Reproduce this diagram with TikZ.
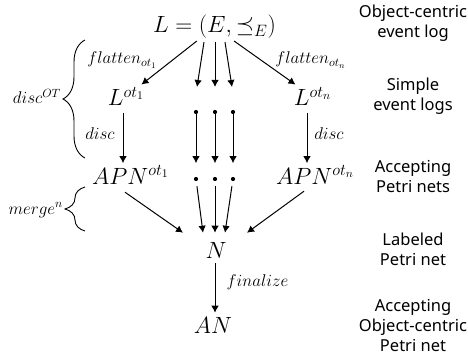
\RequirePackage{fix-cm}
\documentclass[tikz,border=0pt]{standalone}
\usepackage{fontspec}
\newfontfamily\sidefont{Noto Sans}
\usetikzlibrary{arrows.meta,decorations.pathreplacing}
\begin{document}
\begin{tikzpicture}[x=1pt,y=-1pt,
  mnode/.style={font=\fontsize{23.5}{28}\selectfont, inner sep=2pt, anchor=base},
  lbl/.style={font=\fontsize{17}{20}\selectfont, inner sep=0pt, anchor=base},
  sidelabel/.style={font=\sidefont\fontsize{16.5}{20}\selectfont, align=center, inner sep=0pt},
  arr/.style={-{Latex[length=7pt,width=7.5pt]}, line width=1pt},
  dotn/.style={circle, fill, inner sep=0pt, minimum size=4.2pt},
  brc/.style={decorate, decoration={brace, amplitude=#1}, line width=0.9pt}
]
\useasboundingbox (0,0) rectangle (468,358);

% main nodes
\node[mnode] (L) at (214.5,33) {$L = (E, \preceq_E)$};
\node[mnode] (Lot1) at (126,106) {$L^{ot_1}$};
\node[mnode] (Lotn) at (312.5,106) {$L^{ot_n}$};
\node[mnode] (APN1) at (130.5,184) {$APN^{ot_1}$};
\node[mnode] (APNn) at (315,184) {$APN^{ot_n}$};
\node[mnode] (N) at (216,258) {$N$};
\node[mnode] (AN) at (213,333) {$AN$};

% dots
\node[dotn] (d11) at (196,112) {};
\node[dotn] (d12) at (215,112) {};
\node[dotn] (d13) at (233,112) {};
\node[dotn] (d21) at (196,179) {};
\node[dotn] (d22) at (215,179) {};
\node[dotn] (d23) at (233,179) {};

% edge labels
\node[lbl] (fl1) at (122,64) {$flatten_{ot_1}$};
\node[lbl] (fln) at (310.5,64) {$flatten_{ot_n}$};
\node[lbl] (disc1) at (100,140) {$disc$};
\node[lbl] (discn) at (329,140) {$disc$};
\node[lbl] (fin) at (257.5,286) {$finalize$};
\node[lbl, anchor=base east] (discOT) at (61,104) {$disc^{OT}$};
\node[lbl, anchor=base east] (merge) at (63,214) {$merge^n$};

% braces
\coordinate (br1a) at (85,158);
\coordinate (br1b) at (85,40);
\draw[brc=22pt] (br1a) -- (br1b);
\coordinate (br2a) at (85,231);
\coordinate (br2b) at (85,187);
\draw[brc=20pt] (br2a) -- (br2b);

% side labels
\node[sidelabel] (r1) at (413,23.5) {Object-centric\\event log};
\node[sidelabel] (r2) at (413,96.5) {Simple\\event logs};
\node[sidelabel] (r3) at (413,176.6) {Accepting\\Petri nets};
\node[sidelabel] (r4) at (413,249.5) {Labeled\\Petri net};
\node[sidelabel] (r5) at (413,325.4) {Accepting\\Object-centric\\Petri net};

% arrows from L
\coordinate (t1) at (197,87);
\coordinate (t2) at (215,87);
\coordinate (t3) at (232,87);
\draw[arr, shorten >=1pt] (L) -- (Lot1);
\draw[arr, shorten >=1pt] (L) -- (Lotn);
\draw[arr] ([xshift=-10.5pt,yshift=-1pt]L.south) -- (t1);
\draw[arr] ([xshift=0.5pt,yshift=-1pt]L.south) -- (t2);
\draw[arr] ([xshift=10.5pt,yshift=-1pt]L.south) -- (t3);

% disc arrows
\coordinate (s1) at ([xshift=-3pt,yshift=-5pt]Lot1.south);
\draw[arr] (s1) -- (s1 |- APN1.north);
\coordinate (sn) at ([xshift=-5.5pt,yshift=-5pt]Lotn.south);
\draw[arr] (sn) -- (sn |- APNn.north);
\draw[arr] (d11) -- (d11 |- APN1.north);
\draw[arr] (d12) -- (d12 |- APN1.north);
\draw[arr] (d13) -- (d13 |- APN1.north);

% merge arrows
\draw[arr] ([xshift=-5.5pt,yshift=-6pt]APN1.south) -- ([xshift=-33pt,yshift=7pt]N.north);
\draw[arr] ([xshift=-11pt,yshift=-5pt]APNn.south) -- ([xshift=31pt,yshift=7pt]N.north);
\draw[arr, shorten <=5pt] (d21) -- ([xshift=-13pt,yshift=7pt]N.north);
\draw[arr, shorten <=5pt] (d22) -- ([xshift=-1pt,yshift=7pt]N.north);
\draw[arr, shorten <=5pt] (d23) -- ([xshift=9pt,yshift=7pt]N.north);

% finalize
\coordinate (ns) at ([xshift=-1pt,yshift=-3pt]N.south);
\draw[arr, shorten >=2pt] (ns) -- (ns |- AN.north);
\end{tikzpicture}
\end{document}
